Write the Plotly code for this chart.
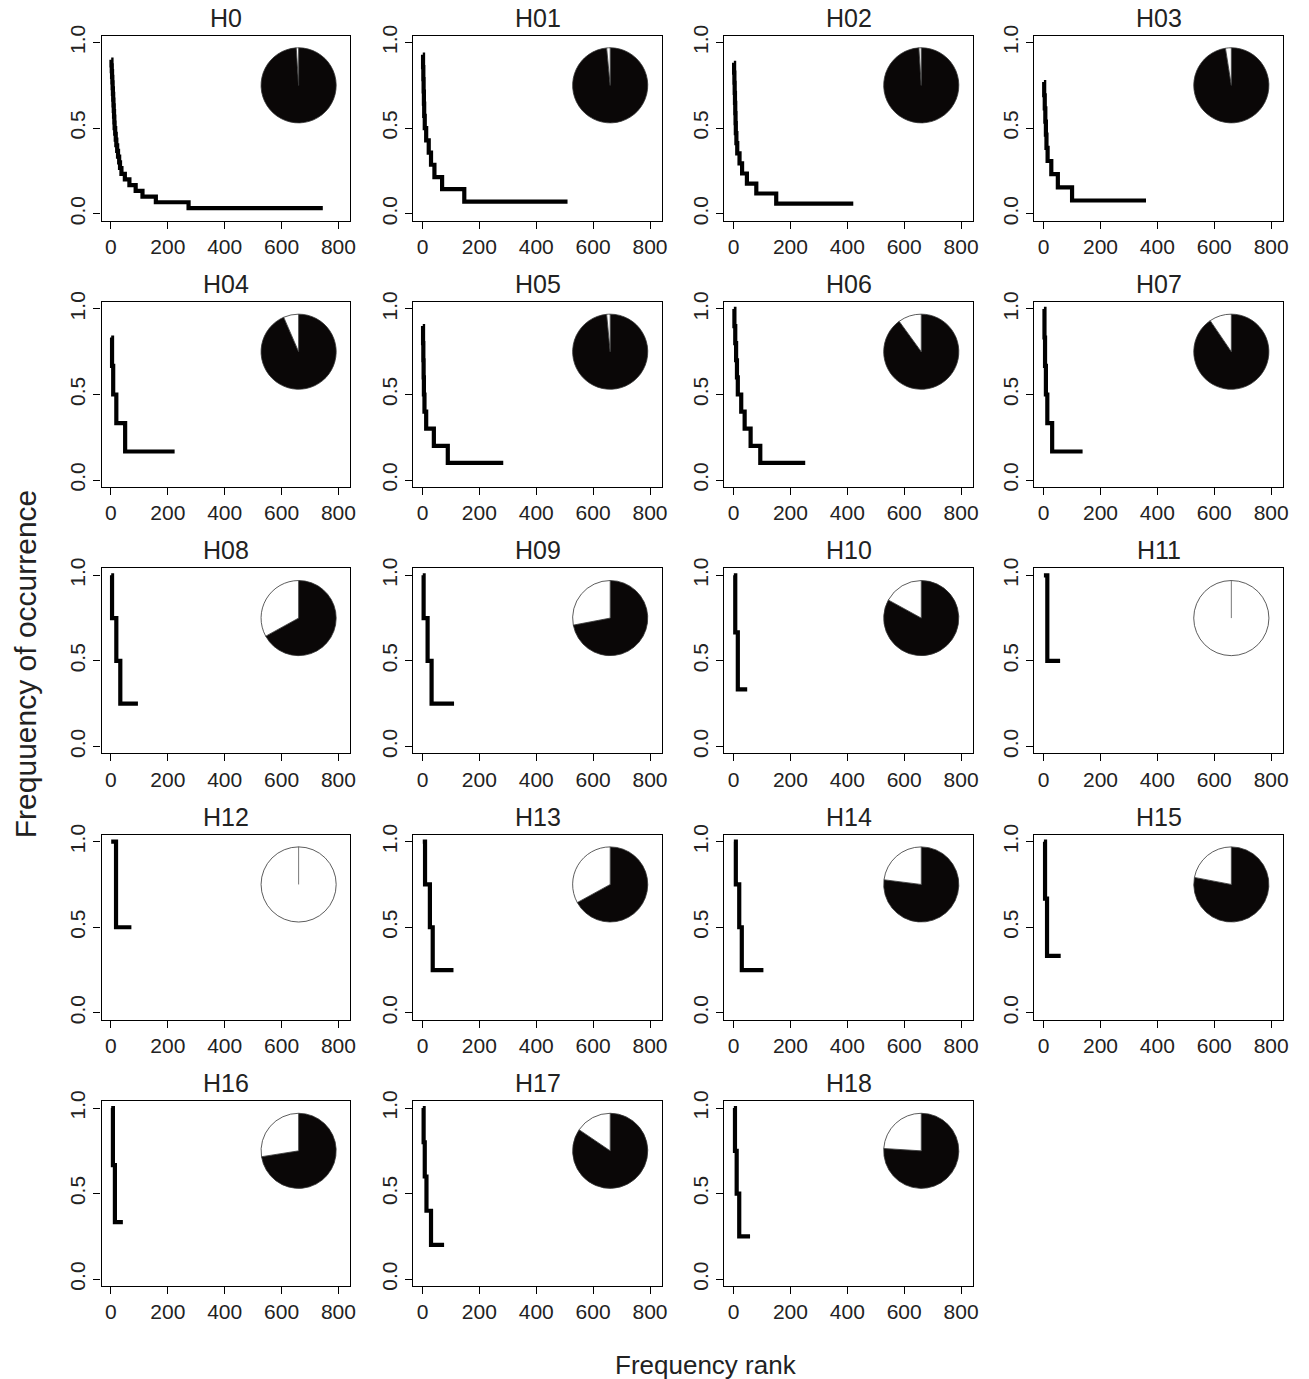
import plotly.graph_objects as go

# ---------------- data ----------------
PANELS = ["H0", "H01", "H02", "H03", "H04", "H05", "H06", "H07", "H08", "H09",
          "H10", "H11", "H12", "H13", "H14", "H15", "H16", "H17", "H18"]

# frequency level of each step and the last rank that carries that level
H0_freq = [0.900, 0.867, 0.833, 0.800, 0.767, 0.733, 0.700, 0.667, 0.633, 0.600,
           0.567, 0.533, 0.500, 0.467, 0.433, 0.400, 0.367, 0.333, 0.300, 0.267,
           0.233, 0.200, 0.167, 0.133, 0.100, 0.067, 0.033]
H0_rank = [1, 2, 3, 4, 5, 6, 7, 8, 9, 10, 11, 12, 14, 16, 18, 21, 24, 28, 31, 36,
           48, 64, 86, 110, 157, 272, 745]
H01_freq = [0.929, 0.857, 0.786, 0.714, 0.643, 0.571, 0.500, 0.429, 0.357, 0.286, 0.214, 0.143, 0.071]
H01_rank = [1, 2, 3, 4, 5, 7, 12, 21, 29, 41, 68, 146, 510]
H02_freq = [0.882, 0.824, 0.765, 0.706, 0.647, 0.588, 0.529, 0.471, 0.412, 0.353, 0.294, 0.235, 0.176, 0.118, 0.059]
H02_rank = [1, 2, 3, 4, 5, 6, 7, 9, 12, 20, 29, 46, 79, 149, 421]
H03_freq = [0.769, 0.692, 0.615, 0.538, 0.462, 0.385, 0.308, 0.231, 0.154, 0.077]
H03_rank = [1, 3, 5, 7, 9, 13, 26, 49, 99, 360]
H04_freq = [0.833, 0.667, 0.500, 0.333, 0.167]
H04_rank = [3, 7, 18, 49, 224]
H05_freq = [0.9, 0.8, 0.7, 0.6, 0.5, 0.4, 0.3, 0.2, 0.1]
H05_rank = [1, 2, 3, 4, 6, 12, 39, 88, 284]
H06_freq = [1.0, 0.9, 0.8, 0.7, 0.6, 0.5, 0.4, 0.3, 0.2, 0.1]
H06_rank = [2, 5, 8, 11, 14, 26, 38, 59, 93, 252]
H07_freq = [1.0, 0.833, 0.667, 0.5, 0.333, 0.167]
H07_rank = [2, 4, 7, 12, 29, 137]
H08_freq = [1.0, 0.75, 0.5, 0.25]
H08_rank = [3, 18, 32, 95]
H09_freq = [1.0, 0.75, 0.5, 0.25]
H09_rank = [3, 17, 31, 111]
H10_freq = [1.0, 0.667, 0.333]
H10_rank = [5, 14, 48]
H11_freq = [1.0, 0.5]
H11_rank = [12, 58]
H12_freq = [1.0, 0.5]
H12_rank = [17, 72]
H13_freq = [1.0, 0.75, 0.5, 0.25]
H13_rank = [8, 25, 35, 109]
H14_freq = [1.0, 0.75, 0.5, 0.25]
H14_rank = [7, 19, 28, 105]
H15_freq = [1.0, 0.667, 0.333]
H15_rank = [4, 11, 60]
H16_freq = [1.0, 0.667, 0.333]
H16_rank = [6, 13, 42]
H17_freq = [1.0, 0.8, 0.6, 0.4, 0.2]
H17_rank = [3, 7, 13, 29, 76]
H18_freq = [1.0, 0.75, 0.5, 0.25]
H18_rank = [4, 10, 19, 58]

# share of the white slice in each inset pie (black = 1 - white)
WHITE_SHARE = [0.010, 0.015, 0.010, 0.025, 0.065, 0.015, 0.100, 0.095, 0.330, 0.280,
               0.170, 1.000, 1.000, 0.330, 0.230, 0.220, 0.275, 0.155, 0.240]

X_TICKS = [0, 200, 400, 600, 800]
Y_TICKS = [0.0, 0.5, 1.0]
Y_TICKTEXT = ["0.0", "0.5", "1.0"]

# ---------------- layout constants ----------------
W, H = 1309, 1379
NCOL = 4
COL_LEFT = [102, 415, 727.5, 1039]
BOX_W = 250
ROW_TOP = [25, 294.5, 564, 833.5, 1103]
BOX_H = 187
XR = [-33, 842]
YR = [-0.04, 1.04]
PIE_CX, PIE_CY, PIE_R = 660, 0.75, 38   # centre in data units, radius in px
FONT = "Liberation Sans, Arial, sans-serif"

data = {n: (globals()[n + "_freq"], globals()[n + "_rank"]) for n in PANELS}

def px_x(p):
    return p / W

def px_y(p):
    return 1 - p / H

fig = go.Figure()
annotations = []
shapes = []

for i, name in enumerate(PANELS):
    r, c = divmod(i, NCOL)
    left, top = COL_LEFT[c], ROW_TOP[r]
    ax = "" if i == 0 else str(i + 1)
    xa, ya = "x" + ax, "y" + ax

    freq, rank = data[name]
    starts = [1] + [e + 1 for e in rank[:-1]]
    xs = starts + [rank[-1]]
    ys = list(freq) + [freq[-1]]
    fig.add_trace(go.Scatter(x=xs, y=ys, mode="lines", line=dict(color="black", width=4.2, shape="hv"),
                             xaxis=xa, yaxis=ya, showlegend=False, hoverinfo="skip"))

    common = dict(showline=True, linecolor="black", linewidth=1.4, mirror=True, ticks="outside",
                  ticklen=7, tickwidth=1.4, tickcolor="black", showgrid=False, zeroline=False,
                  tickfont=dict(family=FONT, size=21, color="#222"))
    fig.layout["xaxis" + ax] = dict(domain=[px_x(left), px_x(left + BOX_W)], range=XR,
                                    tickvals=X_TICKS, anchor=ya, **common)
    fig.layout["yaxis" + ax] = dict(domain=[px_y(top + BOX_H), px_y(top)], range=YR,
                                    tickvals=Y_TICKS, ticktext=Y_TICKTEXT, tickangle=-90,
                                    anchor=xa, **common)

    annotations.append(dict(text=name, x=px_x(left + BOX_W / 2), y=px_y(top - 2), xref="paper", yref="paper",
                            xanchor="center", yanchor="bottom", showarrow=False,
                            font=dict(family=FONT, size=25, color="#222")))

    # inset pie
    cx = left + (PIE_CX - XR[0]) / (XR[1] - XR[0]) * BOX_W
    cy = top + (YR[1] - PIE_CY) / (YR[1] - YR[0]) * BOX_H
    white = WHITE_SHARE[i]
    fig.add_trace(go.Pie(values=[1 - white, white], sort=False, direction="clockwise", rotation=0,
                         marker=dict(colors=["#0a0707", "white"], line=dict(color="#333", width=0.8)),
                         textinfo="none", hoverinfo="skip", showlegend=False,
                         domain=dict(x=[px_x(cx - PIE_R), px_x(cx + PIE_R)],
                                     y=[px_y(cy + PIE_R), px_y(cy - PIE_R)])))
    if white >= 1:
        shapes.append(dict(type="line", xref="paper", yref="paper", x0=px_x(cx), x1=px_x(cx),
                           y0=px_y(cy), y1=px_y(cy - PIE_R), line=dict(color="#555", width=0.8)))

annotations.append(dict(text="Frequuency of occurrence", x=px_x(25), y=px_y(660), xref="paper", yref="paper",
                        textangle=-90, showarrow=False, xanchor="center", yanchor="middle",
                        font=dict(family=FONT, size=30, color="#222")))
annotations.append(dict(text="Frequency rank", x=px_x(709), y=px_y(1370), xref="paper", yref="paper",
                        showarrow=False, xanchor="center", yanchor="middle",
                        font=dict(family=FONT, size=26, color="#222")))

fig.update_layout(width=W, height=H, margin=dict(l=0, r=0, t=0, b=0), paper_bgcolor="white",
                  plot_bgcolor="white", annotations=annotations, shapes=shapes)

fig.write_html("out.html")
